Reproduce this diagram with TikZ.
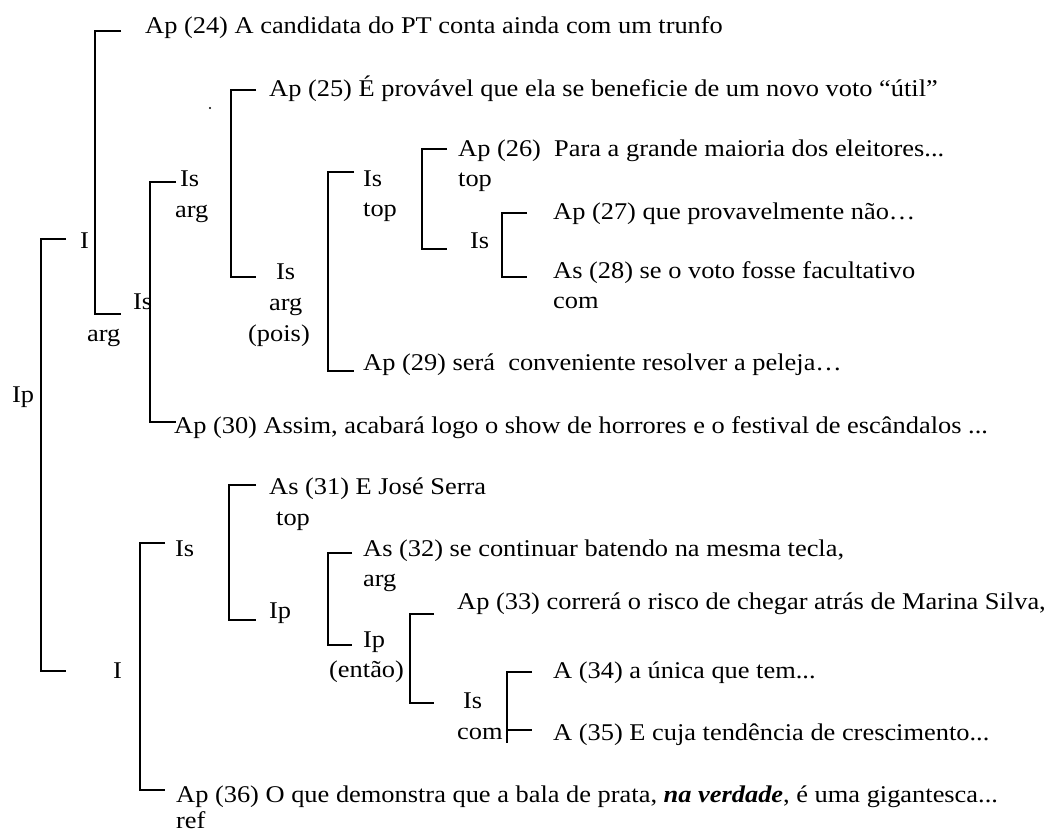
\documentclass[tikz,border=0pt]{standalone}
\usepackage{fontspec}
\setmainfont{Liberation Serif}[FakeStretch=1.1]
\newcommand{\treesize}{\fontsize{24}{28}\selectfont}
\tikzset{
    brk/.style={line width=1.8pt},
    lbl/.style={anchor=base west, inner sep=0pt}
}
\begin{document}
\begin{tikzpicture}[x=1pt, y=-1pt, every node/.style={font=\treesize}]
    \useasboundingbox (0,0) rectangle (1053,832);
    % bracket lines: name / left x / right x / top y / bottom y
    \foreach \n/\xl/\xr/\yt/\yb in {ba/95/121/31/314, bb/41/66/239/671, bc/150/176/182/422,
        bd/231/256/90/277, be/328/354/172/371, bf/422/447/149/249, bg/502/527/213/277,
        bh/140/165/543/790, bi/229/256/485/620, bj/328/352/553/645, bk/410/434/614/703} {
        \coordinate (\n t) at (\xr,\yt);
        \coordinate (\n b) at (\xr,\yb);
        \draw[brk] (\n t) -| (\xl,\yb) -- (\n b);
    }
    % last one has a tick in the middle
    \coordinate (blt) at (532,672);
    \coordinate (blm) at (532,730);
    \coordinate (blb) at (507,743);
    \draw[brk] (blt) -| (blb);
    \draw[brk] (507,730) -- (blm);
    \fill (210,108) circle (1.1pt);
    % upper half
    \node[lbl] (ap24) at (145,34) {Ap (24) A candidata do PT conta ainda com um trunfo};
    \node[lbl] (ap25) at (269,97) {Ap (25) É provável que ela se beneficie de um novo voto “útil”};
    \node[lbl] (isa) at (180,187) {Is};
    \node[lbl] (arga) at (175,218) {arg};
    \node[lbl] (iup) at (80,248) {I};
    \node[lbl] (isb) at (133,309) {Is};
    \node[lbl] (argb) at (87,341) {arg};
    \node[lbl] (iproot) at (12,402) {Ip};
    \node[lbl] (isp) at (276,279) {Is};
    \node[lbl] (argp) at (269,310) {arg};
    \node[lbl] (pois) at (248,341) {(pois)};
    \node[lbl] (ist) at (363,187) {Is};
    \node[lbl] (topt) at (363,217) {top};
    \node[lbl] (ap26) at (458,157) {Ap (26)\ \ Para a grande maioria dos eleitores...};
    \node[lbl] (topu) at (458,187) {top};
    \node[lbl] (isq) at (470,248) {Is};
    \node[lbl] (ap27) at (553,219) {Ap (27) que provavelmente não…};
    \node[lbl] (as28) at (553,278) {As (28) se o voto fosse facultativo};
    \node[lbl] (comq) at (553,308) {com};
    \node[lbl] (ap29) at (363,370) {Ap (29) será\ \ conveniente resolver a peleja…};
    \node[lbl] (ap30) at (174,433) {Ap (30) Assim, acabará logo o show de horrores e o festival de escândalos ...};
    % lower half
    \node[lbl] (as31) at (269,494) {As (31) E José Serra};
    \node[lbl] (topl) at (276,525) {top};
    \node[lbl] (isl) at (175,556) {Is};
    \node[lbl] (as32) at (363,556) {As (32) se continuar batendo na mesma tecla,};
    \node[lbl] (argl) at (363,586) {arg};
    \node[lbl] (ipl) at (269,618) {Ip};
    \node[lbl] (ipm) at (363,647) {Ip};
    \node[lbl] (entao) at (329,677) {(então)};
    \node[lbl] (ilow) at (113,678) {I};
    \node[lbl] (ap33) at (457,609) {Ap (33) correrá o risco de chegar atrás de Marina Silva,};
    \node[lbl] (a34) at (553,678) {A (34) a única que tem...};
    \node[lbl] (isc) at (463,708) {Is};
    \node[lbl] (comc) at (457,739) {com};
    \node[lbl] (a35) at (553,740) {A (35) E cuja tendência de crescimento...};
    \node[lbl] (ap36) at (176,802) {Ap (36) O que demonstra que a bala de prata, \textbf{\textit{na verdade}}, é uma gigantesca...};
    \node[lbl] (refl) at (176,828) {ref};
\end{tikzpicture}
\end{document}
